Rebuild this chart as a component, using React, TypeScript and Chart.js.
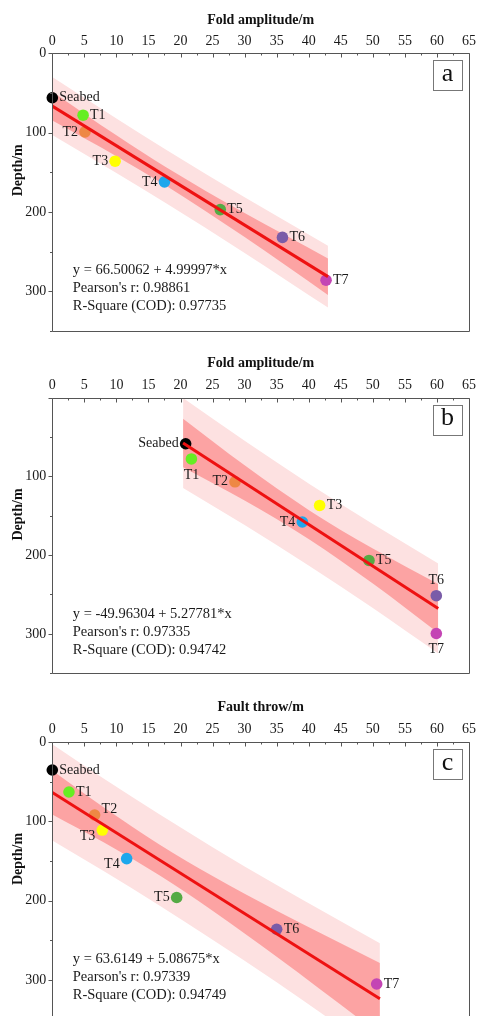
import React, { useEffect, useRef } from 'react';
import { Chart, registerables } from 'chart.js';

Chart.register(...registerables);

const FONT = '"Liberation Serif", "Times New Roman", serif';

// ---------- shared ----------
const LABELS = ['Seabed', 'T1', 'T2', 'T3', 'T4', 'T5', 'T6', 'T7'];
const COLORS = ['#000000', '#66ee22', '#ee8844', '#ffff00', '#1ea7ec', '#55aa44', '#7a5ca8', '#c445b4'];
const X_TICK_MIN = 0;
const X_TICK_MAX = 65;
const Y_TICK_MIN = 0;
const Y_TICK_MAX = 350;

// ---------- panel a ----------
const A_X = [0, 4.8, 5.1, 9.8, 17.5, 26.2, 35.9, 42.7];
const A_Y = [56, 78, 99, 136, 162, 197, 232, 286];
const A_FIT_X = [0, 43];
const A_FIT_Y = [66.5, 281.5];
const A_BAND_X = [0, 10, 17.75, 30, 43];
const A_PRED_UP = [30, 82.1, 121.5, 181.4, 242.5];
const A_PRED_LO = [103, 150.9, 189.1, 251.6, 320.5];
const A_CONF_UP = [48.4, 103.4, 143.7, 201.4, 258.5];
const A_CONF_LO = [84.6, 129.6, 166.9, 231.6, 304.5];
const A_EQ = ['y = 66.50062 + 4.99997*x', "Pearson's r: 0.98861", 'R-Square (COD): 0.97735'];
const A_TITLE = 'Fold amplitude/m';
const A_LETTER = 'a';

// ---------- panel b ----------
const B_X = [20.8, 21.7, 28.5, 41.7, 39.0, 49.4, 59.9, 59.9];
const B_Y = [58.7, 78, 107, 137, 158, 206.8, 251.5, 299.5];
const B_FIT_X = [20.4, 60.2];
const B_FIT_Y = [57.7, 267.8];
const B_BAND_X = [20.4, 30, 40.1, 50, 60.2];
const B_PRED_UP = [0.7, 55, 109.7, 160.6, 210.6];
const B_PRED_LO = [114.7, 161.8, 213.7, 267.2, 325];
const B_CONF_UP = [26.9, 86.1, 143.3, 191.7, 236.6];
const B_CONF_LO = [88.5, 130.7, 180.1, 236.1, 299];
const B_EQ = ['y = -49.96304 + 5.27781*x', "Pearson's r: 0.97335", 'R-Square (COD): 0.94742'];
const B_TITLE = 'Fold amplitude/m';
const B_LETTER = 'b';

// ---------- panel c ----------
const C_X = [0, 2.6, 6.6, 7.8, 11.6, 19.4, 35, 50.6];
const C_Y = [35.3, 63, 92, 111, 147, 196, 236, 305];
const C_FIT_X = [0, 51.1];
const C_FIT_Y = [63.6, 323.5];
const C_BAND_X = [0, 8, 16.7, 25, 35, 51.1];
const C_PRED_UP = [2.9, 45.9, 91.1, 132.5, 180.3, 253.5];
const C_PRED_LO = [124.3, 162.7, 206.1, 249.1, 302.9, 393.5];
const C_CONF_UP = [35.9, 82.3, 129.2, 169, 212.6, 278.5];
const C_CONF_LO = [91.3, 126.3, 168, 212.6, 270.6, 368.5];
const C_EQ = ['y = 63.6149 + 5.08675*x', "Pearson's r: 0.97339", 'R-Square (COD): 0.94749'];
const C_TITLE = 'Fault throw/m';
const C_LETTER = 'c';

// label placement codes (layout only)
const A_POS = ['r', 'r', 'l', 'l', 'l', 'r', 'r', 'r'];
const B_POS = ['l', 'b', 'l', 'r', 'l', 'r', 't', 'b'];
const C_POS = ['r', 'r', 'tr', 'bl', 'bl', 'l', 'r', 'r'];

const PANELS = [
  { xs: A_X, ys: A_Y, fitX: A_FIT_X, fitY: A_FIT_Y, bandX: A_BAND_X, predUp: A_PRED_UP, predLo: A_PRED_LO, confUp: A_CONF_UP, confLo: A_CONF_LO, eq: A_EQ, title: A_TITLE, letter: A_LETTER, pos: A_POS, hideZero: false,
    top: 0, height: 345, axisH: 53.3, plotBottom: 331, titlePad: 11.6 },
  { xs: B_X, ys: B_Y, fitX: B_FIT_X, fitY: B_FIT_Y, bandX: B_BAND_X, predUp: B_PRED_UP, predLo: B_PRED_LO, confUp: B_CONF_UP, confLo: B_CONF_LO, eq: B_EQ, title: B_TITLE, letter: B_LETTER, pos: B_POS, hideZero: true,
    top: 344, height: 344, axisH: 53.5, plotBottom: 673.3, titlePad: 10.6 },
  { xs: C_X, ys: C_Y, fitX: C_FIT_X, fitY: C_FIT_Y, bandX: C_BAND_X, predUp: C_PRED_UP, predLo: C_PRED_LO, confUp: C_CONF_UP, confLo: C_CONF_LO, eq: C_EQ, title: C_TITLE, letter: C_LETTER, pos: C_POS, hideZero: false,
    top: 688, height: 345, axisH: 54, plotBottom: 1019.7, titlePad: 11.3 },
];

const DARK = '#fca3a3';
const LIGHT = '#fde1e1';
const LINE = '#ee1111';
const AXIS = '#555555';

function Panel({ cfg }: { cfg: any }) {
  const ref = useRef<HTMLCanvasElement>(null);

  useEffect(() => {
    const canvas = ref.current as HTMLCanvasElement;
    const pts = cfg.xs.map((x: number, i: number) => ({ x, y: cfg.ys[i] }));
    const fit = cfg.fitX.map((x: number, i: number) => ({ x, y: cfg.fitY[i] }));
    const band = (arr: number[]) => cfg.bandX.map((x: number, i: number) => ({ x, y: arr[i] }));

    const overlay = {
      id: 'overlay',
      afterDraw(chart: any) {
        const ctx = chart.ctx as CanvasRenderingContext2D;
        const { left, right, top, bottom } = chart.chartArea;
        const xs = chart.scales.x;
        const ys = chart.scales.y;
        ctx.save();
        // frame
        ctx.strokeStyle = AXIS;
        ctx.lineWidth = 1;
        const L = Math.round(left) + 0.5, R = Math.round(right) + 0.5, T = Math.round(top) + 0.5, B = Math.round(bottom) + 0.5;
        ctx.beginPath();
        ctx.moveTo(L, T); ctx.lineTo(R, T); ctx.lineTo(R, B); ctx.lineTo(L, B); ctx.closePath();
        ctx.stroke();
        // ticks
        ctx.beginPath();
        for (let v = X_TICK_MIN; v <= X_TICK_MAX; v += 2.5) {
          const px = Math.round(xs.getPixelForValue(v)) + 0.5;
          const len = v % 5 === 0 ? 4 : 2;
          ctx.moveTo(px, T); ctx.lineTo(px, T + len);
        }
        for (let v = Y_TICK_MIN; v <= Y_TICK_MAX; v += 50) {
          const py = Math.round(ys.getPixelForValue(v)) + 0.5;
          const len = v % 100 === 0 ? 4 : 2.5;
          ctx.moveTo(L - len, py); ctx.lineTo(L, py);
        }
        ctx.stroke();

        // point labels
        ctx.fillStyle = '#1a1a1a';
        ctx.font = `14px ${FONT}`;
        ctx.textBaseline = 'middle';
        cfg.xs.forEach((x: number, i: number) => {
          const px = xs.getPixelForValue(x);
          const py = ys.getPixelForValue(cfg.ys[i]);
          const p = cfg.pos[i];
          let tx = px, ty = py;
          if (p === 'r') { ctx.textAlign = 'left'; tx = px + 7; }
          else if (p === 'l') { ctx.textAlign = 'right'; tx = px - 7; }
          else if (p === 'b') { ctx.textAlign = 'center'; ty = py + 16; }
          else if (p === 't') { ctx.textAlign = 'center'; ty = py - 15; }
          else if (p === 'tr') { ctx.textAlign = 'left'; tx = px + 7; ty = py - 6; }
          else if (p === 'bl') { ctx.textAlign = 'right'; tx = px - 7; ty = py + 6; }
          ctx.fillText(LABELS[i], tx, ty);
        });

        // equation
        ctx.textAlign = 'left';
        ctx.font = `14.5px ${FONT}`;
        cfg.eq.forEach((s: string, i: number) => {
          ctx.fillText(s, left + 20.5, top + 217 + i * 18);
        });

        // letter box
        ctx.strokeStyle = '#777777';
        ctx.strokeRect(Math.round(right - 36) + 0.5, Math.round(top + 7) + 0.5, 29, 30);
        ctx.textAlign = 'center';
        ctx.font = `26px ${FONT}`;
        ctx.fillStyle = '#111111';
        ctx.fillText(cfg.letter, right - 21.5, top + 21);

        // y title
        ctx.save();
        ctx.translate(18, top + 117);
        ctx.rotate(-Math.PI / 2);
        ctx.font = `bold 14px ${FONT}`;
        ctx.textAlign = 'center';
        ctx.fillText('Depth/m', 0, 0);
        ctx.restore();

        ctx.restore();
      },
    };

    const bandDs = (data: any[], color: string | null, order: number) => ({
      data,
      showLine: true,
      borderWidth: 0,
      borderColor: 'rgba(0,0,0,0)',
      pointRadius: 0,
      cubicInterpolationMode: 'monotone',
      fill: color ? '+1' : false,
      backgroundColor: color || 'rgba(0,0,0,0)',
      order,
    });

    const chart = new Chart(canvas, {
      type: 'scatter',
      data: {
        datasets: [
          { data: pts, backgroundColor: COLORS, borderWidth: 0, pointRadius: 5.8, order: 2, clip: false } as any,
          { data: fit, showLine: true, borderColor: LINE, borderWidth: 3, pointRadius: 0, fill: false, order: 1 } as any,
          bandDs(band(cfg.confUp), DARK, 3) as any,
          bandDs(band(cfg.confLo), null, 4) as any,
          bandDs(band(cfg.predUp), LIGHT, 5) as any,
          bandDs(band(cfg.predLo), null, 6) as any,
        ],
      },
      options: {
        responsive: false,
        maintainAspectRatio: false,
        animation: false,
        events: [],
        layout: { padding: { left: 0, right: 10, top: 0, bottom: cfg.top + cfg.height - cfg.plotBottom } },
        plugins: { legend: { display: false }, tooltip: { enabled: false } },
        scales: {
          x: {
            type: 'linear',
            position: 'top',
            min: X_TICK_MIN,
            max: X_TICK_MAX,
            ticks: { stepSize: 5, padding: 4, color: '#1a1a1a', font: { family: FONT, size: 14 }, maxRotation: 0, autoSkip: false },
            grid: { display: false, drawTicks: false },
            border: { display: false },
            title: { display: true, text: cfg.title, color: '#111', font: { family: FONT, size: 14, weight: 'bold' }, padding: { top: cfg.titlePad, bottom: 0 } },
            afterFit: (s: any) => { s.height = cfg.axisH; s.paddingLeft = 0; s.paddingRight = 0; },
          },
          y: {
            type: 'linear',
            reverse: true,
            min: Y_TICK_MIN,
            max: Y_TICK_MAX,
            ticks: {
              stepSize: 100,
              padding: 6,
              color: '#1a1a1a',
              font: { family: FONT, size: 14 },
              callback: (v: any) => (v % 100 !== 0 || (cfg.hideZero && v === 0) ? '' : String(v)),
            },
            grid: { display: false, drawTicks: false },
            border: { display: false },
            title: { display: false },
            afterFit: (s: any) => { s.width = 52.3; s.paddingTop = 0; s.paddingBottom = 0; },
          },
        },
      } as any,
      plugins: [overlay],
    });
    return () => chart.destroy();
  }, [cfg]);

  return (
    <canvas
      ref={ref}
      width={479}
      height={cfg.height}
      style={{ position: 'absolute', left: 0, top: cfg.top, width: 479, height: cfg.height }}
    />
  );
}

export default function App() {
  return (
    <div style={{ position: 'absolute', left: 0, top: 0, width: 479, height: 1016, overflow: 'hidden', background: '#ffffff' }}>
      {PANELS.map((p, i) => (
        <Panel key={i} cfg={p} />
      ))}
    </div>
  );
}
